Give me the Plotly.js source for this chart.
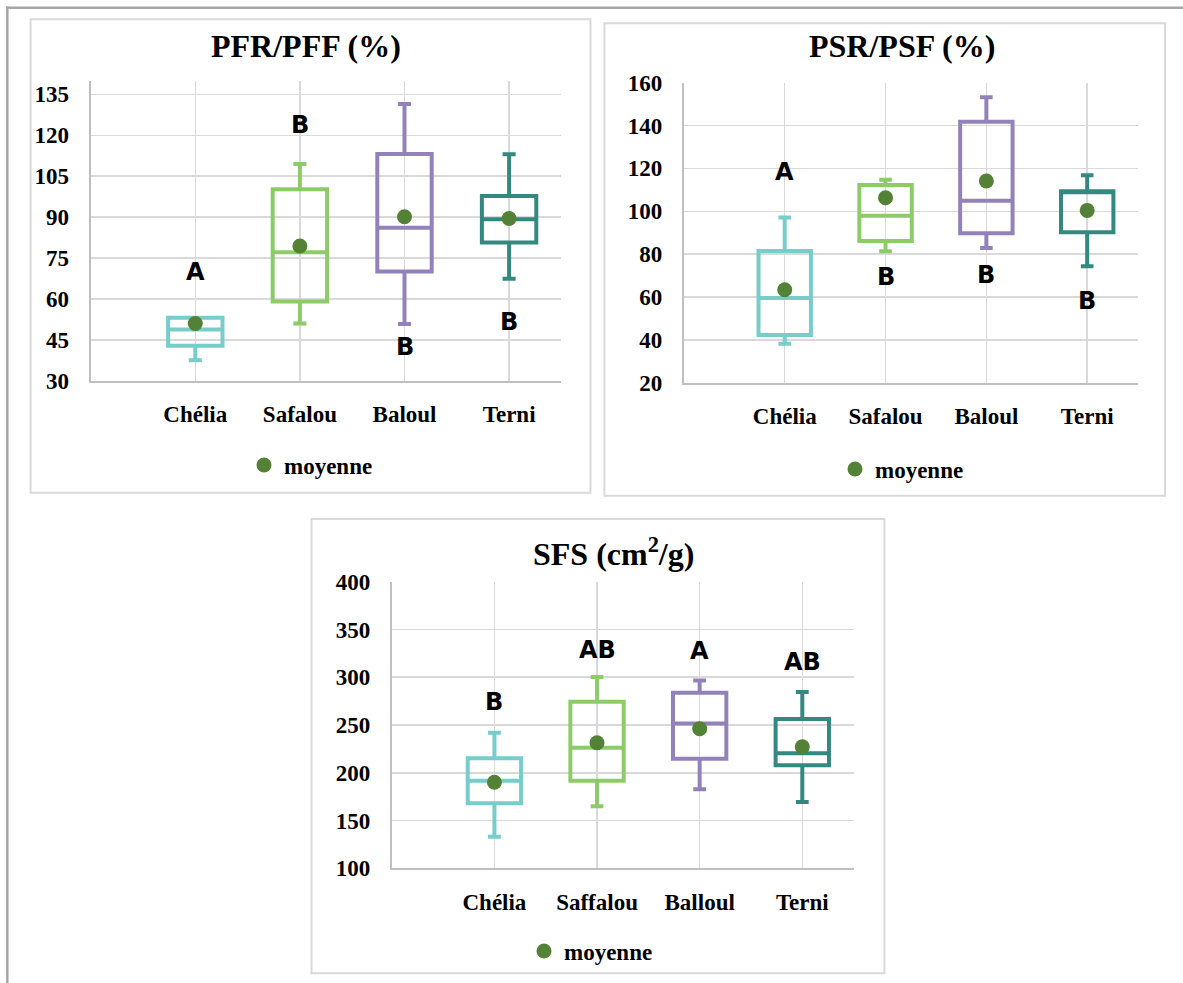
<!DOCTYPE html>
<html>
<head>
<meta charset="utf-8">
<script src="https://cdn.plot.ly/plotly-3.0.1.min.js"></script>
<style>html,body{margin:0;padding:0;background:#fff;}#chart{width:1183px;height:983px;}</style>
</head>
<body>
<div id="chart"></div>
<script>
// ---------- DATA ----------
const cats1 = ['Chélia', 'Safalou', 'Baloul', 'Terni'];
const cats2 = ['Chélia', 'Safalou', 'Baloul', 'Terni'];
const cats3 = ['Chélia', 'Saffalou', 'Balloul', 'Terni'];

// PFR/PFF (%)
const pfrLower  = [37.5, 51.0, 50.8, 67.4];
const pfrQ1     = [42.8, 59.0, 70.0, 80.7];
const pfrMedian = [48.8, 77.1, 86.1, 89.2];
const pfrQ3     = [53.1, 100.2, 113.1, 97.7];
const pfrUpper  = [53.1, 109.5, 131.5, 113.0];
const pfrMean   = [51.0, 79.4, 90.1, 89.5];
const pfrLetters = ['A', 'B', 'B', 'B'];
const pfrLetterY = [70.0, 123.7, 42.2, 51.6];

// PSR/PSF (%)
const psrLower  = [38.2, 81.3, 82.9, 74.3];
const psrQ1     = [42.3, 86.1, 89.7, 90.2];
const psrMedian = [59.5, 97.9, 104.9, 109.3];
const psrQ3     = [81.5, 112.3, 141.8, 109.3];
const psrUpper  = [97.1, 114.7, 153.2, 116.8];
const psrMean   = [63.4, 106.3, 114.1, 100.4];
const psrLetters = ['A', 'B', 'B', 'B'];
const psrLetterY = [118.2, 69.2, 70.3, 58.1];

// SFS (cm2/g)
const sfsLower  = [133.1, 164.9, 182.7, 169.4];
const sfsQ1     = [168.0, 191.7, 214.7, 207.8];
const sfsMedian = [191.7, 226.2, 251.7, 220.3];
const sfsQ3     = [215.1, 274.3, 283.8, 256.2];
const sfsUpper  = [241.9, 300.2, 296.7, 284.5];
const sfsMean   = [190.0, 231.4, 246.1, 227.3];
const sfsLetters = ['B', 'AB', 'A', 'AB'];
const sfsLetterY = [273.7, 328.4, 327.4, 316.2];

const boxColors = ['#76CDC9', '#8DCB6A', '#9282B9', '#33897F'];
const meanColor = '#538135';
const legendName = 'moyenne';

// ---------- HELPERS ----------
const W = 1183, H = 983;
const px = v => v / W;
const py = v => 1 - v / H;
const serif = 'Liberation Serif, Times New Roman, serif';
const sans = 'DejaVu Sans, Arial, sans-serif';

const panels = [
  {cats: cats1, lo: pfrLower, q1: pfrQ1, me: pfrMedian, q3: pfrQ3, up: pfrUpper, mean: pfrMean,
   letters: pfrLetters, ly: pfrLetterY, xa: 'x', ya: 'y', leg: 'legend'},
  {cats: cats2, lo: psrLower, q1: psrQ1, me: psrMedian, q3: psrQ3, up: psrUpper, mean: psrMean,
   letters: psrLetters, ly: psrLetterY, xa: 'x2', ya: 'y2', leg: 'legend2'},
  {cats: cats3, lo: sfsLower, q1: sfsQ1, me: sfsMedian, q3: sfsQ3, up: sfsUpper, mean: sfsMean,
   letters: sfsLetters, ly: sfsLetterY, xa: 'x3', ya: 'y3', leg: 'legend3'}
];

const traces = [];
const annotations = [];
panels.forEach(p => {
  const idx = p.cats.map((c, i) => i);
  idx.forEach(i => {
    traces.push({
      type: 'box', x: [i], q1: [p.q1[i]], median: [p.me[i]], q3: [p.q3[i]],
      lowerfence: [p.lo[i]], upperfence: [p.up[i]],
      width: 0.52, whiskerwidth: 0.24, boxpoints: false,
      line: {color: boxColors[i], width: 4}, fillcolor: 'rgba(255,255,255,0)',
      xaxis: p.xa, yaxis: p.ya, showlegend: false, hoverinfo: 'skip'
    });
    annotations.push({
      xref: p.xa, yref: p.ya, x: i, y: p.ly[i], text: p.letters[i],
      showarrow: false, xanchor: 'center', yanchor: 'middle',
      font: {family: sans, size: 24, color: '#000', weight: 'bold'}
    });
  });
  traces.push({
    type: 'scatter', mode: 'markers', x: idx, y: p.mean, name: legendName,
    marker: {color: meanColor, size: 15}, xaxis: p.xa, yaxis: p.ya,
    legend: p.leg, showlegend: true, hoverinfo: 'skip'
  });
});

function xAxis(cats, domain, anchor) {
  return {
    domain: domain, anchor: anchor, range: [-1, 3.5], tickvals: cats.map((c, i) => i), ticktext: cats,
    showgrid: true, gridcolor: '#d9d9d9', gridwidth: 1.5, zeroline: false,
    showline: true, linecolor: '#bfbfbf', linewidth: 2, ticks: '',
    ticklabelstandoff: 12, fixedrange: true,
    tickfont: {family: serif, size: 23, color: '#000', weight: 'bold'}
  };
}
function yAxis(range, dtick, domain, anchor) {
  return {
    domain: domain, anchor: anchor, range: range, tick0: range[0], dtick: dtick,
    showgrid: true, gridcolor: '#d9d9d9', gridwidth: 1.5, zeroline: false,
    showline: true, linecolor: '#bfbfbf', linewidth: 2, ticks: '',
    ticklabelstandoff: 15, fixedrange: true,
    tickfont: {family: serif, size: 23, color: '#000', weight: 'bold'}
  };
}

const titles = [
  {text: '<b>PFR/PFF (%)</b>', x: 306, y: 46},
  {text: '<b>PSR/PSF (%)</b>', x: 902, y: 46},
  {text: '<b>SFS (cm<sup>2</sup>/g)</b>', x: 613, y: 552}
];
titles.forEach(t => annotations.push({
  xref: 'paper', yref: 'paper', x: px(t.x), y: py(t.y), text: t.text, showarrow: false,
  xanchor: 'center', yanchor: 'middle', font: {family: serif, size: 32, color: '#000'}
}));

const legendFont = {family: serif, size: 23, color: '#000', weight: 'bold'};
function legendAt(x, y) {
  return {x: px(x), y: py(y), xanchor: 'left', yanchor: 'middle', font: legendFont,
          bgcolor: 'rgba(0,0,0,0)', borderwidth: 0, itemclick: false, itemdoubleclick: false};
}

const panelRect = (x0, y0, x1, y1) => ({
  type: 'rect', xref: 'paper', yref: 'paper', x0: px(x0), x1: px(x1), y0: py(y1), y1: py(y0),
  line: {color: '#d9d9d9', width: 2}, fillcolor: 'rgba(0,0,0,0)', layer: 'below'
});

const layout = {
  width: W, height: H, margin: {l: 0, r: 0, t: 0, b: 0},
  paper_bgcolor: '#fff', plot_bgcolor: 'rgba(0,0,0,0)',
  xaxis: xAxis(cats1, [px(90.7), px(561.4)], 'y'),
  yaxis: yAxis([30, 140], 15, [py(380.7), py(80.7)], 'x'),
  xaxis2: xAxis(cats2, [px(683.9), px(1137.6)], 'y2'),
  yaxis2: yAxis([20, 160], 20, [py(382.7), py(82.7)], 'x2'),
  xaxis3: xAxis(cats3, [px(391.8), px(853.6)], 'y3'),
  yaxis3: yAxis([100, 400], 50, [py(868.3), py(581.7)], 'x3'),
  legend: legendAt(244, 465),
  legend2: legendAt(835, 469),
  legend3: legendAt(524, 951),
  annotations: annotations,
  shapes: [
    panelRect(30.6, 19.3, 590.5, 492.7),
    panelRect(604.4, 23.3, 1165, 495.7),
    panelRect(311.5, 519, 884.4, 973.3),
    {type: 'line', xref: 'paper', yref: 'paper', x0: px(6), x1: 1, y0: py(7.7), y1: py(7.7),
     line: {color: '#a6a6a6', width: 2.5}},
    {type: 'line', xref: 'paper', yref: 'paper', x0: px(7.3), x1: px(7.3), y0: py(6.5), y1: 0,
     line: {color: '#a6a6a6', width: 2.5}}
  ],
  showlegend: true, hovermode: false
};

Plotly.newPlot('chart', traces, layout, {displayModeBar: false, staticPlot: true});
</script>
</body>
</html>
